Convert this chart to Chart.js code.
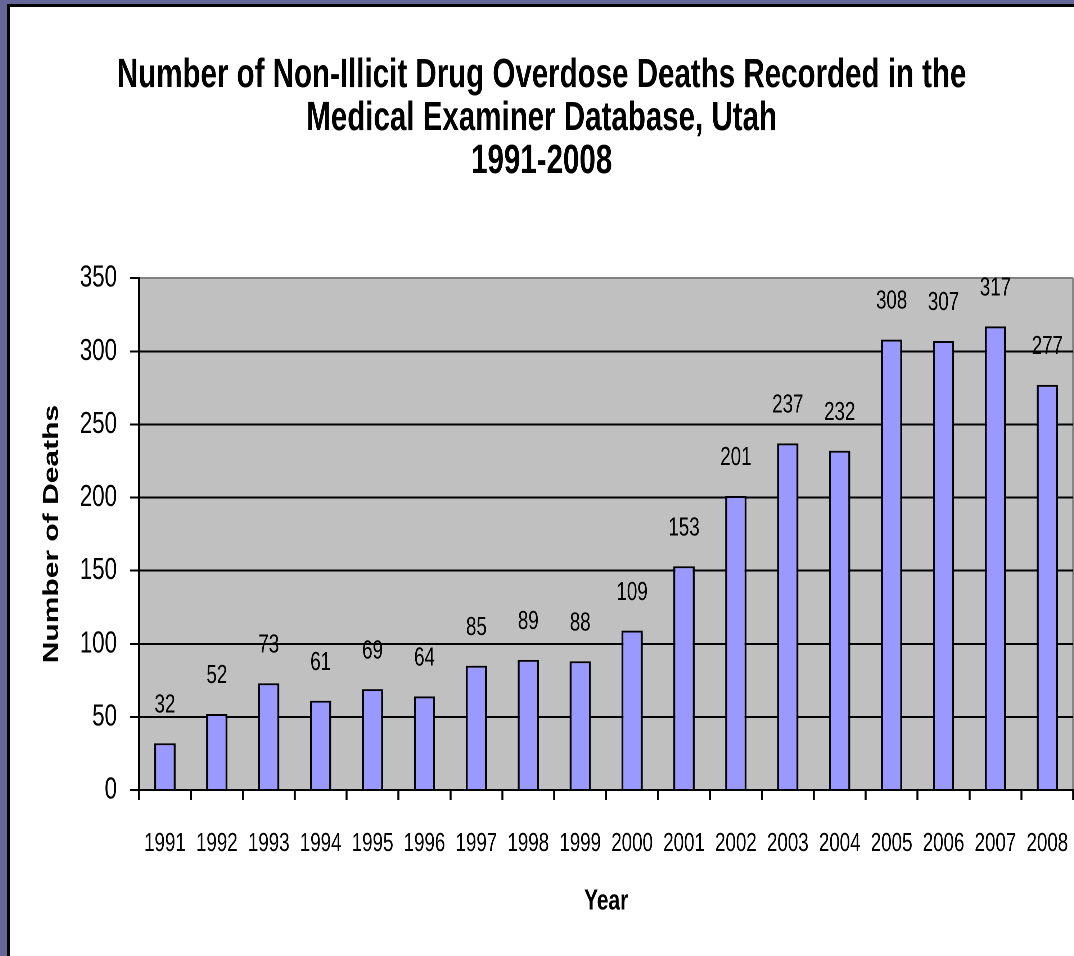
<!DOCTYPE html>
<html>
<head>
<meta charset="utf-8">
<script src="https://cdn.jsdelivr.net/npm/chart.js@4.4.1/dist/chart.umd.min.js"></script>
<style>
    html, body { margin: 0; padding: 0; background: #666699; overflow: hidden; }
    #frame {
        position: absolute; left: 7px; top: 4px;
        border-left: 3px solid #000; border-top: 3px solid #000;
        background: #fff; width: 1064px; height: 949px; overflow: hidden;
    }
    /* the original chart has narrow, tall lettering: draw wide and squeeze horizontally */
    #overdoseChart { display: block; transform-origin: 0 0; }
</style>
</head>
<body>
<div id="frame"><canvas id="overdoseChart"></canvas></div>
<script>
// chart data
const years = ['1991', '1992', '1993', '1994', '1995', '1996', '1997', '1998', '1999',
    '2000', '2001', '2002', '2003', '2004', '2005', '2006', '2007', '2008'];
const deaths = [32, 52, 73, 61, 69, 64, 85, 89, 88, 109, 153, 201, 237, 232, 308, 307, 317, 277];
const yTicks = [0, 50, 100, 150, 200, 250, 300, 350];
const titleLines = [
    'Number of Non-Illicit Drug Overdose Deaths Recorded in the',
    'Medical Examiner Database, Utah',
    '1991-2008'
];

const W = 1064, H = 949;
const S = 0.72;               // horizontal squeeze
const VW = Math.round(W / S); // drawing width before the squeeze
const font = "'Liberation Sans', Arial, sans-serif";

const canvas = document.getElementById('overdoseChart');
canvas.width = VW;
canvas.height = H;
canvas.style.transform = 'scaleX(' + (W / VW) + ')';

// grey plot background + grey right border
const plotBackground = {
    id: 'plotBackground',
    beforeDraw(chart) {
        const { ctx, chartArea: a } = chart;
        ctx.save();
        ctx.fillStyle = '#c0c0c0';
        ctx.fillRect(a.left, a.top, a.right - a.left, a.bottom - a.top);
        ctx.strokeStyle = '#808080';
        ctx.lineWidth = 2 / S;
        ctx.beginPath();
        ctx.moveTo(a.right, a.top);
        ctx.lineTo(a.right, a.bottom + 10);
        ctx.stroke();
        ctx.restore();
    }
};

// value labels above the bars
const valueLabels = {
    id: 'valueLabels',
    afterDatasetsDraw(chart) {
        const { ctx } = chart;
        const meta = chart.getDatasetMeta(0);
        ctx.save();
        ctx.font = '26px ' + font;
        ctx.fillStyle = '#000';
        ctx.textAlign = 'center';
        ctx.textBaseline = 'middle';
        meta.data.forEach((bar, i) => {
            ctx.fillText(String(deaths[i]), bar.x, bar.y - 38);
        });
        ctx.restore();
    }
};

new Chart(canvas.getContext('2d'), {
    type: 'bar',
    data: {
        labels: years,
        datasets: [{
            data: deaths,
            backgroundColor: '#9999ff',
            borderColor: '#000',
            borderWidth: { top: 2, left: 2 / S, right: 2 / S, bottom: 0 },
            categoryPercentage: 1,
            barPercentage: 0.41
        }]
    },
    options: {
        responsive: false,
        animation: false,
        devicePixelRatio: 2,
        layout: { padding: { left: 0, right: 1, top: 0, bottom: 0 } },
        plugins: {
            legend: { display: false },
            tooltip: { enabled: false },
            title: {
                display: true,
                text: titleLines,
                color: '#000',
                font: { family: font, size: 41, weight: 'bold', lineHeight: 1.05 },
                padding: { top: 47, bottom: 95 }
            }
        },
        scales: {
            x: {
                grid: {
                    display: true,
                    drawOnChartArea: false,
                    offset: true,
                    tickLength: 10,
                    tickColor: '#000',
                    tickWidth: 2 / S
                },
                border: { color: '#000', width: 2 },
                ticks: {
                    color: '#000',
                    padding: 28,
                    maxRotation: 0,
                    autoSkip: false,
                    font: { family: font, size: 26 }
                },
                title: {
                    display: true,
                    text: 'Year',
                    color: '#000',
                    font: { family: font, size: 29, weight: 'bold' },
                    padding: { top: 0, bottom: 37 }
                },
                afterFit(scale) {
                    scale.height = 166;
                    scale.paddingLeft = 0;
                    scale.paddingRight = 0;
                }
            },
            y: {
                min: 0,
                max: 350,
                afterBuildTicks(scale) {
                    scale.ticks = yTicks.map(v => ({ value: v }));
                },
                grid: {
                    color: c => (c.tick && c.tick.value === 350 ? '#808080' : '#000'),
                    lineWidth: 2,
                    tickLength: 9 / S,
                    tickColor: '#000',
                    tickWidth: 2
                },
                border: { color: '#000', width: 2 / S },
                ticks: {
                    color: '#000',
                    padding: 18,
                    font: { family: font, size: 31 }
                },
                title: {
                    display: true,
                    text: 'Number of Deaths',
                    color: '#000',
                    font: { family: font, size: 30, weight: 'bold' },
                    padding: { top: 40, bottom: 0 }
                },
                afterFit(scale) { scale.width = 129 / S; }
            }
        }
    },
    plugins: [plotBackground, valueLabels]
});
</script>
</body>
</html>
